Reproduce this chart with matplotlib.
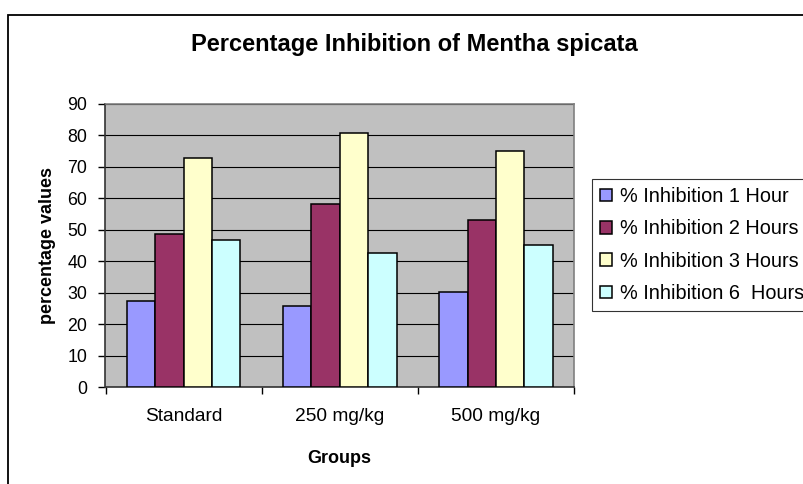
import matplotlib.pyplot as plt
from matplotlib.patches import Rectangle

plt.rcParams['font.family'] = ['Liberation Sans', 'DejaVu Sans']

groups = ['Standard', '250 mg/kg', '500 mg/kg']
series_names = ['% Inhibition 1 Hour', '% Inhibition 2 Hours',
                '% Inhibition 3 Hours', '% Inhibition 6  Hours']
inhibition_1h = [27.4, 25.8, 30.1]
inhibition_2h = [48.8, 58.2, 53.1]
inhibition_3h = [72.8, 80.7, 74.9]
inhibition_6h = [46.7, 42.6, 45.2]
colors = ['#9999FF', '#993366', '#FFFFCC', '#CCFFFF']

W, H = 804, 484
fig = plt.figure(figsize=(W / 100, H / 100), dpi=100)

# outer chart frame (runs off the right and bottom edges)
fig.patches.append(Rectangle((8 / W, -0.1), 1.2, 1 - 15 / H + 0.1,
                             transform=fig.transFigure, fill=False,
                             edgecolor='black', linewidth=1.3))

ax = fig.add_axes([105.5 / W, 1 - 387 / H, (574 - 105.5) / W, (387 - 104) / H])
ax.set_facecolor('#C0C0C0')

bar_w = 1 / 5.5
all_series = [inhibition_1h, inhibition_2h, inhibition_3h, inhibition_6h]
for i, (vals, name, c) in enumerate(zip(all_series, series_names, colors)):
    xs = [g + (i - 1.5) * bar_w for g in range(len(groups))]
    ax.bar(xs, vals, width=bar_w, color=c, edgecolor='black',
           linewidth=1.1, label=name, zorder=3)

ax.set_ylim(0, 90)
ax.set_xlim(-0.5, 2.5)
ax.set_yticks(range(0, 91, 10))
ax.set_xticks([-0.5, 0.5, 1.5, 2.5])
ax.set_xticklabels([])
ax.set_xticks(range(len(groups)), minor=True)
ax.set_xticklabels(groups, minor=True)
ax.tick_params(axis='x', which='minor', length=0, pad=15, labelsize=13.8)
ax.tick_params(axis='x', which='major', direction='out', length=5, width=1)
ax.tick_params(axis='y', direction='out', length=5, width=1, labelsize=12.8, pad=8)
ax.yaxis.grid(True, color='black', linewidth=0.8, zorder=1)
ax.set_axisbelow(True)

ax.spines['left'].set_color('#333333')
ax.spines['bottom'].set_color('#333333')
ax.spines['top'].set_color('#808080')
ax.spines['right'].set_color('#808080')
for s in ax.spines.values():
    s.set_linewidth(1.2)

ax.set_ylabel('percentage values', fontsize=13, fontweight='bold', labelpad=8)
ax.set_xlabel('Groups', fontsize=13, fontweight='bold', labelpad=18)
fig.text(414 / W, 1 - 45 / H, 'Percentage Inhibition of Mentha spicata',
         ha='center', va='center', fontsize=17, fontweight='bold')

leg = fig.legend(loc='upper left', bbox_to_anchor=(592 / W, 1 - 179 / H),
                 fontsize=14.3, frameon=True, fancybox=False, edgecolor='black',
                 handlelength=0.6, handleheight=0.6, handletextpad=0.4,
                 labelspacing=0.67, borderpad=0.4, borderaxespad=0)
leg.get_frame().set_linewidth(0.8)

fig.savefig('out.png', dpi=100)
